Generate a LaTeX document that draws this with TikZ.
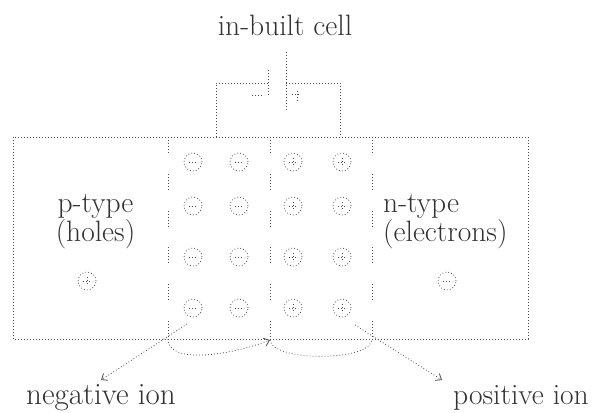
\documentclass[tikz,border=0pt]{standalone}
\usetikzlibrary{arrows.meta}
\begin{document}
\begin{tikzpicture}[x=1pt,y=-1pt,
  dl/.style={line width=0.8pt, dash pattern=on 0.8pt off 2.2pt, draw=black!70},
  dv/.style={line width=0.8pt, dash pattern=on 0.8pt off 2.2pt on 0.8pt off 2.2pt on 0.8pt off 2.2pt on 0.8pt off 2.2pt on 0.8pt off 2.2pt on 0.8pt off 21pt, draw=black!70},
  ion/.style={circle, dl, minimum size=18pt, inner sep=0pt},
  minusion/.style={ion, path picture={\draw[dl] ([xshift=4.5pt]path picture bounding box.west) -- ([xshift=-4.5pt]path picture bounding box.east);}},
  plusion/.style={ion, path picture={\draw[dl] ([xshift=4.5pt]path picture bounding box.west) -- ([xshift=-4.5pt]path picture bounding box.east); \draw[dl] ([yshift=-4.5pt]path picture bounding box.north) -- ([yshift=4.5pt]path picture bounding box.south);}},
  lbl/.style={font=\fontsize{29.5}{33}\selectfont, inner sep=0pt, text=black!80},
  tip/.style={-{Straight Barb[length=5pt,width=8pt]}}
  ]
\useasboundingbox (0,0) rectangle (599,412);

% title
\node[lbl, anchor=base] (cell) at (285,36) {in-built cell};

% battery
\coordinate (bl) at (216,137);
\coordinate (br) at (340,137);
\coordinate (sp) at (268,83);
\coordinate (lp) at (286,83);
\coordinate (sptop) at (268,70);
\coordinate (spbot) at (268,96);
\coordinate (lptop) at (286,52);
\coordinate (lpbot) at (286,110);
\draw[dl] (bl) |- (sp);
\draw[dl] (lp) -| (br);
\draw[dl] (sptop) -- (spbot);
\draw[dl] (lptop) -- (lpbot);
\coordinate (ma) at (252,95);
\coordinate (mb) at (264,95);
\draw[dl] (ma) -- (mb);
\coordinate (pa1) at (292,94);
\coordinate (pa2) at (299,94);
\coordinate (pb1) at (297,91);
\coordinate (pb2) at (297,102);
\draw[dl] (pa1) -- (pa2);
\draw[dl] (pb1) -- (pb2);

% outer box and dividers
\coordinate (boxnw) at (13,137);
\coordinate (boxse) at (528,339);
\draw[dl] (boxnw) rectangle (boxse);
\coordinate (d1t) at (168,137); \coordinate (d1b) at (168,339);
\coordinate (d2t) at (270,137); \coordinate (d2b) at (270,339);
\coordinate (d3t) at (372,137); \coordinate (d3b) at (372,339);
\draw[dv] (d1t) -- (d1b);
\draw[dv] (d2t) -- (d2b);
\draw[dv] (d3t) -- (d3b);

% ions in the depletion layer
\foreach \r/\y in {1/162,2/206,3/257,4/308}{
  \node[minusion] (a\r) at (193,\y) {};
  \node[minusion] (b\r) at (239,\y) {};
  \node[plusion] (c\r) at (293,\y) {};
  \node[plusion] (d\r) at (342,\y) {};
}

% carriers
\node[plusion] (hole) at (87,281) {};
\node[minusion] (elec) at (447,281) {};

% region labels
\node[lbl, anchor=base] (p1) at (95.5,212) {p-type};
\node[lbl, anchor=base] (p2) at (95.5,241) {(holes)};
\node[lbl, anchor=base west] (n1) at (383,212) {n-type};
\node[lbl, anchor=base west] (n2) at (383,241) {(electrons)};

% bottom curves
\coordinate (c0) at (168,339);
\coordinate (c1) at (270,340);
\coordinate (c2) at (372,339);
\draw[dl, tip] (c0) .. controls (168,365) and (232,355) .. (c1);
\draw[dl] (c1) .. controls (272,362) and (372,362) .. (c2);

% ion pointers
\coordinate (na) at (187,324);
\coordinate (nt) at (101,380);
\coordinate (pa) at (355,325);
\coordinate (pt) at (442,380);
\draw[dl, tip] (na) -- (nt);
\draw[dl, tip] (pa) -- (pt);

\node[lbl, font=\fontsize{31}{34}\selectfont, anchor=base west] (neg) at (26,404) {negative ion};
\node[lbl, anchor=base] (pos) at (521,404) {positive ion};
\end{tikzpicture}
\end{document}
